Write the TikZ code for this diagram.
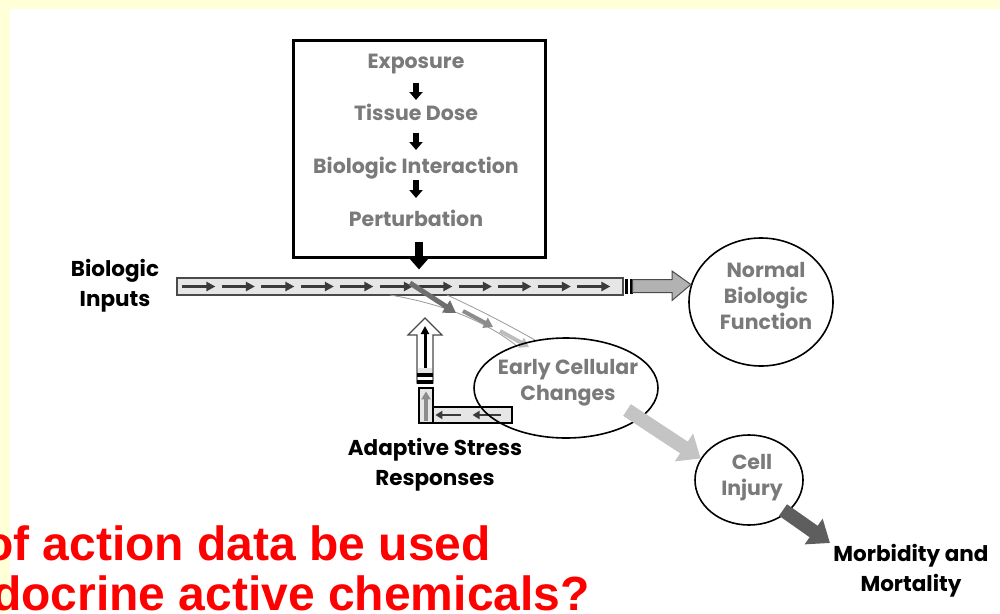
\documentclass[tikz,border=0pt]{standalone}
\usepackage{fontspec}
\setmainfont{Liberation Sans}
\newfontfamily\comic{Poppins}
\usetikzlibrary{arrows.meta,shapes.geometric,calc}
\definecolor{bgyellow}{HTML}{FFFFD8}
\definecolor{txtgray}{HTML}{7A7A7A}
\definecolor{barfill}{HTML}{E6E6E6}
\definecolor{barline}{HTML}{4A4A4A}
\definecolor{arrdark}{HTML}{3A3A3A}
\definecolor{chan}{HTML}{9A9A9A}
\definecolor{ardkgray}{HTML}{6E6E6E}
\definecolor{armgray}{HTML}{8C8C8C}
\definecolor{arltgray}{HTML}{BDBDBD}
\definecolor{bigltgray}{HTML}{C4C4C4}
\definecolor{bigdkgray}{HTML}{5E5E5E}
\definecolor{outgray}{HTML}{B2B2B2}
\tikzset{
  graytxt/.style={font=\comic\bfseries\fontsize{20.5}{26}\selectfont, text=txtgray, inner sep=0pt, align=center},
  blacktxt/.style={font=\comic\bfseries\fontsize{21.5}{30}\selectfont, text=black, inner sep=0pt, align=center},
  redtxt/.style={font=\bfseries\fontsize{48}{50}\selectfont, text=red, inner sep=0pt},
  ell/.style={draw=black, line width=1.6pt, ellipse, inner sep=0pt},
  mainbox/.style={draw=black, line width=3pt, fill=white, inner sep=0pt},
  barbox/.style={draw=barline, line width=1.2pt, fill=barfill, inner sep=0pt},
  bararr/.style={draw=arrdark, line width=2.4pt, -{Triangle[length=9pt,width=9pt]}},
  smallarr/.style={draw=black, line width=5.5pt, -{Triangle[length=8pt,width=13pt]}},
  chanline/.style={draw=chan, line width=0.8pt},
}
\begin{document}
\begin{tikzpicture}[x=1pt,y=-1pt]
\useasboundingbox (0,0) rectangle (1000,613);
\clip (0,0) rectangle (1000,613);
\fill[bgyellow] (0,0) rectangle (1000,613);
\fill[white] (10,9) rectangle (1000,613);

% exposure box
\node[mainbox, minimum width=252pt, minimum height=217pt] (box) at (419,148.5) {};
\node[graytxt, anchor=base] (exp) at (416,68) {Exposure};
\node[graytxt, anchor=base] (tis) at (416,120) {Tissue Dose};
\node[graytxt, anchor=base] (bio) at (416,173) {Biologic Interaction};
\node[graytxt, anchor=base] (pert) at (416,226) {Perturbation};
\draw[smallarr] ([yshift=-15pt]exp.base) -- ([yshift=20pt]tis.base);
\draw[smallarr] ([yshift=-13pt]tis.base) -- ([yshift=23pt]bio.base);
\draw[smallarr] ([yshift=-7pt]bio.base) -- ([yshift=28pt]pert.base);

% main biologic bar
\node[barbox, minimum width=446pt, minimum height=17pt] (bar) at (400,286.5) {};
\foreach \i in {0,...,10}
  \draw[bararr] ([xshift={6pt+39.5pt*\i}]bar.west) -- ++(33,0);

% big arrow from box to bar
\coordinate (bt) at (box.south |- bar.north);
\draw[draw=black, line width=8pt, -{Triangle[length=13pt,width=22pt]}] ([yshift=17pt]box.south) -- ([yshift=8pt]bt);

% ellipses
\node[ell, minimum width=144pt, minimum height=128pt] (nbf) at (761,302) {};
\node[graytxt] (nbft) at (766,296) {Normal\\Biologic\\Function};
\node[ell, minimum width=108pt, minimum height=90pt] (ci) at (749,480) {};
\node[graytxt] (cit) at (752,478) {Cell\\Injury};

% output of bar to normal biologic function
\fill[black] (625,279) rectangle (627.5,294);
\fill[black] (630,279) rectangle (632.5,294);
\draw[draw=barline, line width=1pt, fill=outgray]
  (632.5,279.5) -- (672,279.5) -- (672,271) -- (nbf.166) -- (672,300.5) -- (672,292.5) -- (632.5,292.5) -- cycle;

% diverging channel
\draw[chanline] (390,295) .. controls (450,305) and (490,325) .. (517,346);
\draw[chanline] (447,295) .. controls (480,310) and (510,326) .. (535,340);
\draw[draw=ardkgray, line width=5pt, -{Triangle[length=12pt,width=14pt]}] (410,283) -- (456,313);
\draw[draw=armgray, line width=4pt, -{Triangle[length=9pt,width=11pt]}] (463,311) -- (493,327);
\draw[draw=arltgray, line width=4pt, -{Triangle[length=9pt,width=11pt]}] (500,331) -- (529,347);

% adaptive stress responses
\draw[draw=barline, line width=1.1pt, fill=white]
  (417,383) -- (417,335) -- (408,335) -- (425,318) -- (442,335) -- (433,335) -- (433,383) -- cycle;
\fill[barfill] (417.6,368) rectangle (432.4,373);
\fill[black] (417,373) rectangle (433,376.5);
\fill[black] (417,380) rectangle (433,383.5);
\draw[draw=black, line width=3pt, -{Triangle[length=8pt,width=8pt]}] (425,368) -- (425,326);
\node[barbox, draw=black, minimum width=14pt, minimum height=35pt] (vbox) at (426,405.5) {};
\draw[draw=armgray, line width=4pt, -{Triangle[length=8pt,width=9pt]}] ([yshift=3pt]vbox.south) -- ([yshift=-4pt]vbox.north);
\node[barbox, draw=black, minimum width=79pt, minimum height=16pt] (hbox) at (472.5,415) {};
\draw[draw=arrdark, line width=2.5pt, -{Triangle[length=7pt,width=8pt]}] ([xshift=-12pt]hbox.center) -- ([xshift=3pt]hbox.west);
\draw[draw=arrdark, line width=2.5pt, -{Triangle[length=7pt,width=8pt]}] ([xshift=-12pt]hbox.east) -- ([xshift=0pt]hbox.center);

\node[ell, minimum width=184pt, minimum height=100pt] (ecc) at (566,388) {};
\node[graytxt] (ecct) at (568,383) {Early Cellular\\Changes};

% labels
\node[blacktxt] (bin) at (115,286) {Biologic\\Inputs};
\node[blacktxt] (asr) at (435,465) {Adaptive Stress\\Responses};
\node[blacktxt] (mm) at (911,571) {Morbidity and\\Mortality};

% progression arrows
\draw[draw=bigltgray, line width=14pt, -{Triangle[length=20pt,width=32pt]}] ([shift={(61,22)}]ecc.center) -- (ci.156);
\draw[draw=bigdkgray, line width=14pt, -{Triangle[length=20pt,width=30pt]}] ([shift={(34,30)}]ci.center) -- ([shift={(-81,-28)}]mm.center);

% red title fragment
\node[redtxt, anchor=base east] (l1) at (491,560) {of action data be used};
\node[redtxt, anchor=base east] (l2) at (590,610) {docrine active chemicals?};
\end{tikzpicture}
\end{document}
